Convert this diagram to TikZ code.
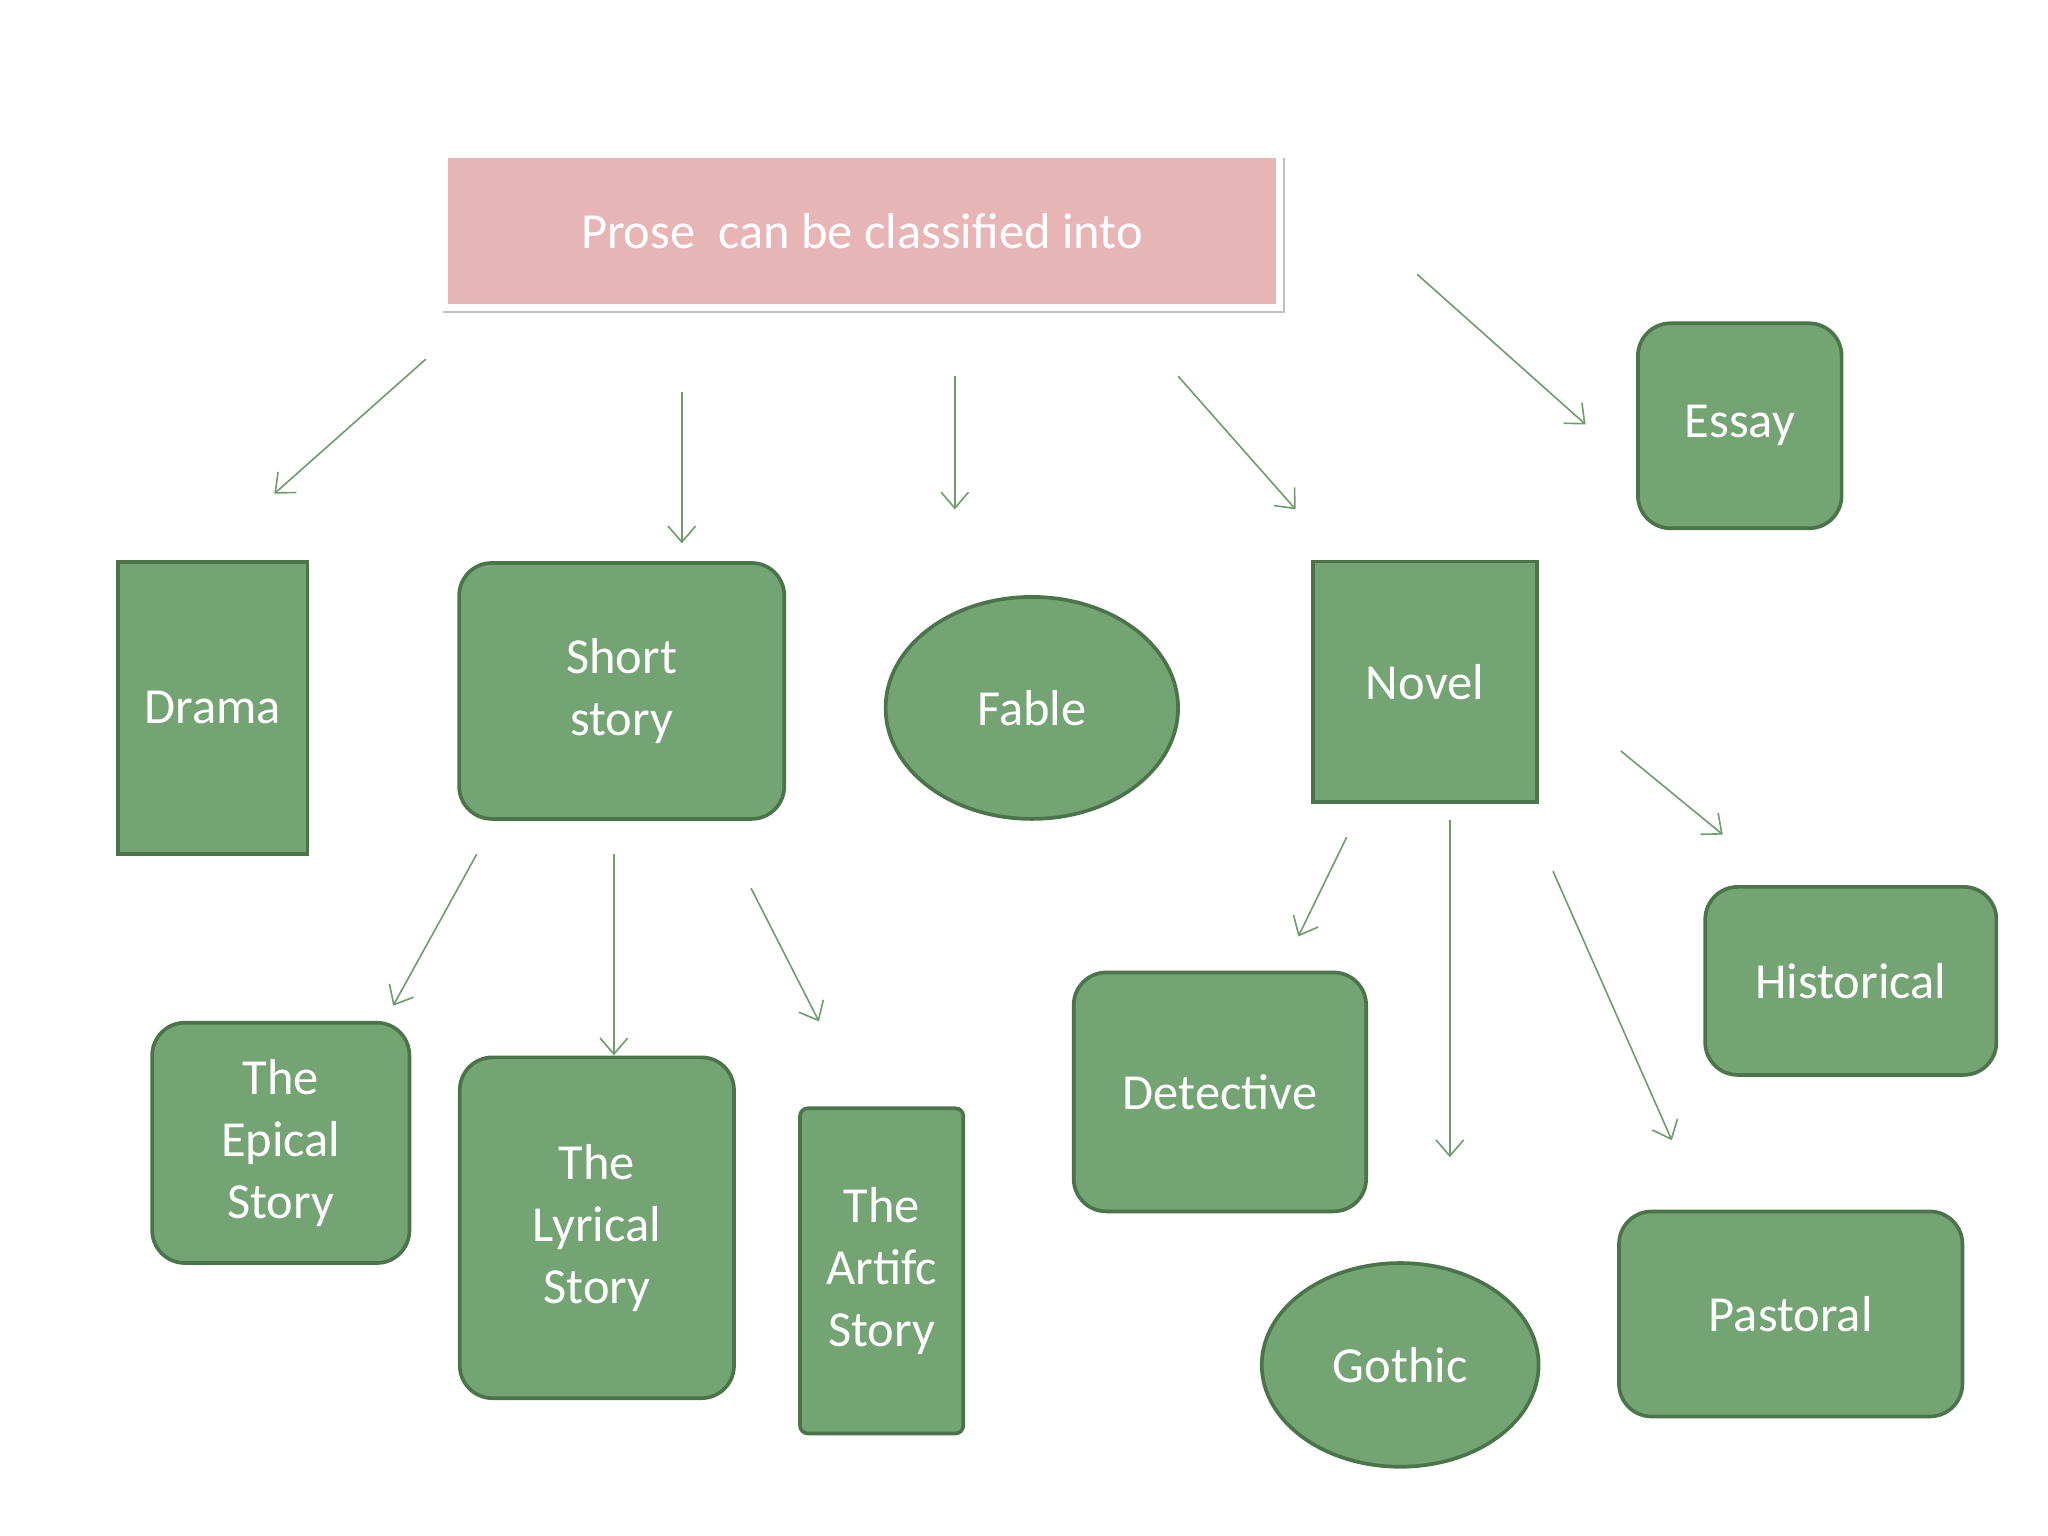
\documentclass[tikz,border=0pt]{standalone}
\usepackage{fontspec}
\setmainfont{Carlito}
\usetikzlibrary{shapes.geometric,arrows.meta,shadows}
\definecolor{gfill}{HTML}{74A374}
\definecolor{gdraw}{HTML}{4B744B}
\definecolor{garrow}{HTML}{6E9C6E}
\definecolor{pinkf}{HTML}{E8B5B7}
\tikzset{
  box/.style={draw=gdraw,fill=gfill,line width=1.6pt,text=white,font=\fontsize{22}{27}\selectfont,align=center,inner sep=0pt},
  rbox/.style={box,rounded corners=0.5cm},
  ell/.style={box,ellipse},
  arr/.style={draw=garrow,line width=0.7pt,-{Straight Barb[length=7pt,width=12pt]}}
}
\begin{document}
\begin{tikzpicture}[x=0.02cm,y=-0.02cm]
\useasboundingbox (0,0) rectangle (1568,1176);
\fill[white] (0,0) rectangle (1568,1176);
\fill[black!25] (339,121) rectangle (984,240);
\node[draw=white,fill=pinkf,line width=3pt,minimum width=12.8cm,minimum height=2.34cm,text=white,font=\fontsize{22}{27}\selectfont] (title) at (660,177) {Prose\ \ can be classified into};
\node[rbox,minimum width=3.12cm,minimum height=3.14cm] (essay) at (1332,326) {Essay};
\node[box,minimum width=2.9cm,minimum height=4.48cm] (drama) at (163,542) {Drama};
\node[rbox,minimum width=4.98cm,minimum height=3.92cm] (short) at (476,529) {Short\\story};
\node[ell,minimum width=4.48cm,minimum height=3.4cm] (fable) at (790,542) {Fable};
\node[box,minimum width=3.44cm,minimum height=3.68cm] (novel) at (1091,522) {Novel};
\node[rbox,minimum width=4.46cm,minimum height=2.88cm] (hist) at (1417,751) {Historical};
\node[rbox,minimum width=4.48cm,minimum height=3.66cm] (det) at (934,836) {Detective};
\node[ell,minimum width=4.24cm,minimum height=3.12cm] (goth) at (1072,1045) {Gothic};
\node[rbox,minimum width=5.26cm,minimum height=3.14cm] (past) at (1371,1006) {Pastoral};
\node[rbox,minimum width=3.94cm,minimum height=3.68cm] (epic) at (215,875) {The\\Epical\\Story};
\node[rbox,minimum width=4.2cm,minimum height=5.22cm] (lyr) at (457,940) {The\\Lyrical\\Story};
\node[box,rounded corners=0.12cm,minimum width=2.5cm,minimum height=4.98cm] (art) at (675,973) {The\\Artifc\\Story};
\foreach \n/\a/\b/\c/\d in {a1/326/275/210/378, a2/522/300/522/416, a3/731/288/731/390, a4/902/288/992/390, a5/1085/210/1214/325, a6/365/654/301/770, a7/470/654/470/808, a8/575/680/627/782, a9/1031/641/994/717, a10/1110/628/1110/886, a11/1189/667/1280/873, a12/1241/575/1319/639}{
  \coordinate (\n s) at (\a,\b);
  \coordinate (\n e) at (\c,\d);
  \draw[arr] (\n s) -- (\n e);
}
\end{tikzpicture}
\end{document}
